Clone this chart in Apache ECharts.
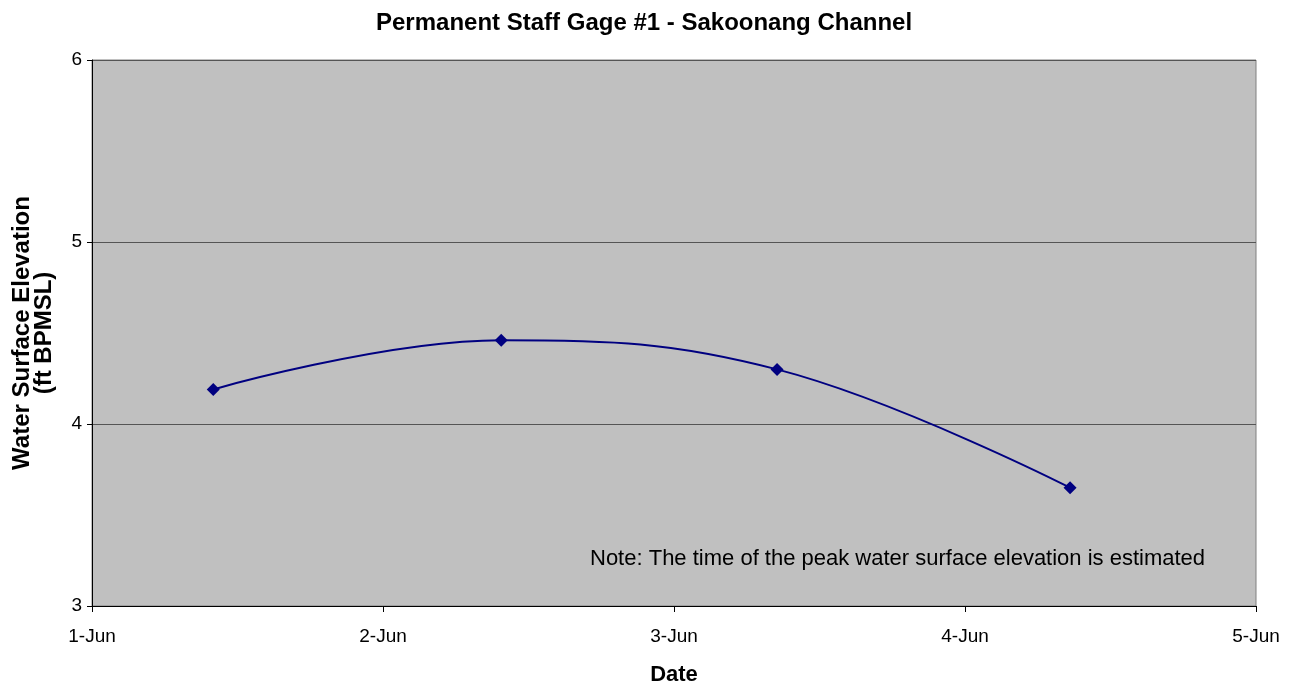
<!DOCTYPE html>
<html>
<head>
<meta charset="utf-8">
<script src="https://cdn.jsdelivr.net/npm/echarts@6/dist/echarts.min.js"></script>
<style>
  html, body { margin: 0; padding: 0; background: #fff; }
  #chart { width: 1293px; height: 688px; }
</style>
</head>
<body>
<div id="chart"></div>
<script>
// readings (UTC)
var readTimes = ['2008-06-01T10:00:00Z', '2008-06-02T09:45:00Z', '2008-06-03T08:30:00Z', '2008-06-04T08:40:00Z'];
var elevations = [4.19, 4.46, 4.30, 3.65];
var dayLabels = ['1-Jun', '2-Jun', '3-Jun', '4-Jun', '5-Jun'];

var DAY = 86400000;
var start = Date.UTC(2008, 5, 1);

var points = readTimes.map(function (t, i) {
    return [Date.parse(t), elevations[i]];
});

var chart = echarts.init(document.getElementById('chart'));
var font = '"Liberation Sans", Arial, sans-serif';

var option = {
    animation: false,
    title: {
        text: 'Permanent Staff Gage #1 - Sakoonang Channel',
        left: 371,
        top: 6,
        textStyle: { fontFamily: font, fontSize: 24, fontWeight: 'bold', color: '#000' }
    },
    grid: {
        left: 92,
        right: 37,
        top: 60,
        bottom: 82,
        outerBoundsMode: 'none',
        show: true,
        backgroundColor: '#c0c0c0',
        borderColor: '#808080',
        borderWidth: 1
    },
    xAxis: {
        type: 'value',
        min: start,
        max: start + 4 * DAY,
        interval: DAY,
        name: 'Date',
        nameLocation: 'middle',
        nameGap: 58,
        nameMoveOverlap: false,
        nameTextStyle: { fontFamily: font, fontSize: 22, fontWeight: 'bold', color: '#000' },
        axisLine: { lineStyle: { color: '#000', width: 1 } },
        axisTick: { show: true, length: 6, lineStyle: { color: '#000' } },
        axisLabel: {
            margin: 21,
            fontFamily: font,
            fontSize: 19,
            color: '#000',
            formatter: function (v) {
                return dayLabels[Math.round((v - start) / DAY)];
            }
        },
        splitLine: { show: false }
    },
    yAxis: {
        type: 'value',
        min: 3,
        max: 6,
        interval: 1,
        name: 'Water Surface Elevation\n(ft BPMSL)',
        nameLocation: 'middle',
        nameRotate: 90,
        nameGap: 37,
        nameMoveOverlap: false,
        nameTextStyle: { fontFamily: font, fontSize: 24, fontWeight: 'bold', color: '#000', lineHeight: 22, align: 'center' },
        axisLine: { show: true, lineStyle: { color: '#000', width: 1 } },
        axisTick: { show: true, length: 5, lineStyle: { color: '#000' } },
        axisLabel: { margin: 10, fontFamily: font, fontSize: 19, color: '#000' },
        splitLine: { show: true, lineStyle: { color: '#555', width: 1 } }
    },
    graphic: [{
        type: 'text',
        left: 590,
        top: 548,
        style: {
            text: 'Note: The time of the peak water surface elevation is estimated',
            font: '22px ' + font,
            fill: '#000'
        }
    }],
    series: [{
        type: 'line',
        data: points,
        smooth: 0.4,
        symbol: 'diamond',
        symbolSize: 13,
        lineStyle: { color: '#000080', width: 2 },
        itemStyle: { color: '#000080' }
    }]
};

chart.setOption(option);
</script>
</body>
</html>
